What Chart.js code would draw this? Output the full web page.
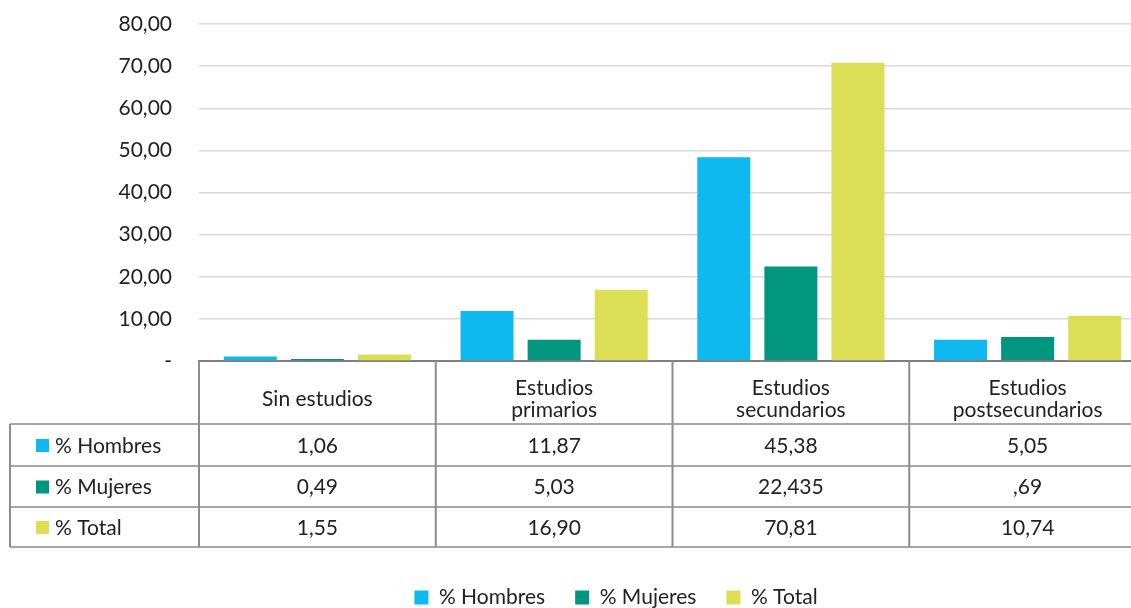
<!DOCTYPE html>
<html lang="es">
<head>
<meta charset="utf-8">
<script src="https://cdn.jsdelivr.net/npm/chart.js@4"></script>
<style>
    html, body { margin: 0; padding: 0; background: #fff; overflow: hidden; }
</style>
</head>
<body>
<canvas id="grafico" width="1146" height="618"></canvas>
<script>
// Datos del gráfico
const categorias = [['Sin estudios'], ['Estudios', 'primarios'], ['Estudios', 'secundarios'], ['Estudios', 'postsecundarios']];
const series = ['% Hombres', '% Mujeres', '% Total'];
const hombres = [1.06, 11.87, 48.38, 5.05];
const mujeres = [0.49, 5.03, 22.435, 5.69];
const total = [1.55, 16.90, 70.81, 10.74];

// Textos de la tabla tal como aparecen
const tablaHombres = ['1,06', '11,87', '45,38', '5,05'];
const tablaMujeres = ['0,49', '5,03', '22,435', ',69'];
const tablaTotal = ['1,55', '16,90', '70,81', '10,74'];

const colores = ['#0DB9EE', '#00967F', '#DCDE55'];
const fuente = 'Lato, "Open Sans", sans-serif';
const tamano = 21;

const linea = (ctx, x1, y1, x2, y2) => {
    ctx.beginPath();
    ctx.moveTo(x1, y1);
    ctx.lineTo(x2, y2);
    ctx.stroke();
};

// Tabla de datos bajo el eje X
const tablaDatos = {
    id: 'tablaDatos',
    afterLayout(chart) {
        // mover la leyenda un poco a la derecha
        chart.legend.left += 43;
        chart.legend.right += 43;
    },
    afterDraw(chart) {
        const { ctx, chartArea, scales: { x } } = chart;
        const ancho = (chartArea.right - chartArea.left) / categorias.length;
        const y0 = chartArea.bottom;
        const filas = [y0 + 63, y0 + 105, y0 + 146, y0 + 186];

        ctx.save();
        ctx.lineWidth = 2;
        ctx.strokeStyle = '#a6a6a6';
        filas.forEach(y => linea(ctx, 10, y, chart.width, y));

        ctx.strokeStyle = '#8c8c8c';
        linea(ctx, 10, filas[0], 10, filas[3]);
        for (let i = 0; i <= categorias.length; i++) {
            const xx = chartArea.left + i * ancho;
            linea(ctx, xx, y0, xx, filas[3]);
        }

        ctx.fillStyle = '#222';
        ctx.font = tamano + 'px ' + fuente;
        ctx.textAlign = 'center';
        ctx.textBaseline = 'middle';

        categorias.forEach((lineas, i) => {
            const cx = x.getPixelForValue(i);
            const cy = y0 + 38;
            lineas.forEach((t, j) => {
                ctx.fillText(t, cx, cy + (j - (lineas.length - 1) / 2) * 22);
            });
        });

        const tablas = [tablaHombres, tablaMujeres, tablaTotal];
        tablas.forEach((fila, k) => {
            const cy = (filas[k] + filas[k + 1]) / 2 + 1;
            ctx.textAlign = 'center';
            ctx.fillStyle = '#222';
            fila.forEach((t, i) => ctx.fillText(t, x.getPixelForValue(i), cy));

            ctx.fillStyle = colores[k];
            ctx.fillRect(36, cy - 7, 13, 13);
            ctx.fillStyle = '#222';
            ctx.textAlign = 'left';
            ctx.fillText(series[k], 55, cy);
        });
        ctx.restore();
    }
};

new Chart(document.getElementById('grafico'), {
    type: 'bar',
    data: {
        labels: categorias,
        datasets: [
            { label: series[0], data: hombres, backgroundColor: colores[0] },
            { label: series[1], data: mujeres, backgroundColor: colores[1] },
            { label: series[2], data: total, backgroundColor: colores[2] }
        ]
    },
    options: {
        responsive: false,
        animation: false,
        datasets: {
            bar: { barPercentage: 0.79, categoryPercentage: 0.85, borderWidth: 0 }
        },
        layout: { padding: { top: 24, left: 0, right: 0, bottom: 0 } },
        scales: {
            x: {
                grid: { display: false },
                ticks: { display: false },
                border: { display: true, color: '#7f7f7f', width: 2 },
                afterFit: (s) => { s.height = 196; }
            },
            y: {
                min: 0,
                max: 80,
                ticks: {
                    stepSize: 10,
                    padding: 27,
                    color: '#222',
                    font: { family: fuente, size: tamano },
                    callback: (v) => v === 0 ? '-' : v.toFixed(2).replace('.', ',')
                },
                grid: { color: '#d9d9d9', lineWidth: 1.5, drawTicks: false },
                border: { display: false },
                afterFit: (s) => {
                    s.width = 199;
                    s.paddingTop = 0;
                    s.paddingBottom = 0;
                }
            }
        },
        plugins: {
            tooltip: { enabled: false },
            legend: {
                position: 'bottom',
                labels: {
                    boxWidth: 14,
                    boxHeight: 14,
                    padding: 30,
                    color: '#222',
                    font: { family: fuente, size: tamano }
                }
            }
        }
    },
    plugins: [tablaDatos]
});
</script>
</body>
</html>
